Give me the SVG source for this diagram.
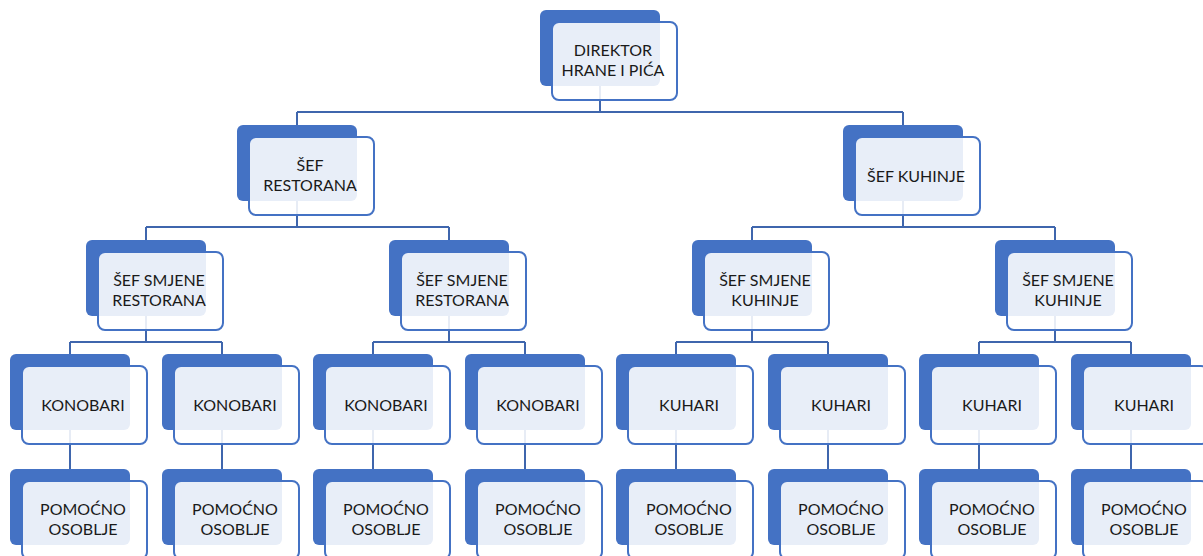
<svg xmlns="http://www.w3.org/2000/svg" width="1203" height="556" viewBox="0 0 1203 556">
<style>
.bk{fill:#4472C4}
.fr{fill:#ffffff;fill-opacity:0.88;stroke:#4472C4;stroke-width:2}
.cn{fill:none;stroke:#3F66AD;stroke-width:2}
text{font-family:Lato,"Liberation Sans",sans-serif;font-size:16px;fill:#1a1a1a;text-anchor:middle}
</style>
<defs>
<g id="box">
<rect class="bk" x="0" y="0" width="120" height="76" rx="6"/>
<rect class="fr" x="12" y="12" width="125" height="78" rx="7"/>
</g>
</defs>
<g id="connectors">
<path class="cn" d="M600,86V112M297,112H903M297,112V125M903,112V125"/>
<path class="cn" d="M297,201V227M146,227H449M146,227V240M449,227V240"/>
<path class="cn" d="M903,201V227M752,227H1055M752,227V240M1055,227V240"/>
<path class="cn" d="M146,316V342M70,342H222M70,342V354M222,342V354"/>
<path class="cn" d="M449,316V342M373,342H525M373,342V354M525,342V354"/>
<path class="cn" d="M752,316V342M676,342H828M676,342V354M828,342V354"/>
<path class="cn" d="M1055,316V342M979,342H1131M979,342V354M1131,342V354"/>
<path class="cn" d="M70,430V469M222,430V469M373,430V469M525,430V469M676,430V469M828,430V469M979,430V469M1131,430V469"/>
</g>
<g id="n-direktor"><use href="#box" x="540" y="10"/><text x="613" y="56">DIREKTOR<tspan x="613" dy="20">HRANE I PIĆA</tspan></text></g>
<g id="n-sef-restorana"><use href="#box" x="237" y="125"/><text x="310" y="171">ŠEF<tspan x="310" dy="20">RESTORANA</tspan></text></g>
<g id="n-sef-kuhinje"><use href="#box" x="843" y="125"/><text x="916" y="182">ŠEF KUHINJE</text></g>
<g id="n-smjena-r1"><use href="#box" x="86" y="240"/><text x="159" y="286">ŠEF SMJENE<tspan x="159" dy="20">RESTORANA</tspan></text></g>
<g id="n-smjena-r2"><use href="#box" x="389" y="240"/><text x="462" y="286">ŠEF SMJENE<tspan x="462" dy="20">RESTORANA</tspan></text></g>
<g id="n-smjena-k1"><use href="#box" x="692" y="240"/><text x="765" y="286">ŠEF SMJENE<tspan x="765" dy="20">KUHINJE</tspan></text></g>
<g id="n-smjena-k2"><use href="#box" x="995" y="240"/><text x="1068" y="286">ŠEF SMJENE<tspan x="1068" dy="20">KUHINJE</tspan></text></g>
<g id="n-konobari1"><use href="#box" x="10" y="354"/><text x="83" y="411">KONOBARI</text></g>
<g id="n-konobari2"><use href="#box" x="162" y="354"/><text x="235" y="411">KONOBARI</text></g>
<g id="n-konobari3"><use href="#box" x="313" y="354"/><text x="386" y="411">KONOBARI</text></g>
<g id="n-konobari4"><use href="#box" x="465" y="354"/><text x="538" y="411">KONOBARI</text></g>
<g id="n-kuhari1"><use href="#box" x="616" y="354"/><text x="689" y="411">KUHARI</text></g>
<g id="n-kuhari2"><use href="#box" x="768" y="354"/><text x="841" y="411">KUHARI</text></g>
<g id="n-kuhari3"><use href="#box" x="919" y="354"/><text x="992" y="411">KUHARI</text></g>
<g id="n-kuhari4"><use href="#box" x="1071" y="354"/><text x="1144" y="411">KUHARI</text></g>
<g id="n-pom1"><use href="#box" x="10" y="469"/><text x="83" y="515">POMOĆNO<tspan x="83" dy="20">OSOBLJE</tspan></text></g>
<g id="n-pom2"><use href="#box" x="162" y="469"/><text x="235" y="515">POMOĆNO<tspan x="235" dy="20">OSOBLJE</tspan></text></g>
<g id="n-pom3"><use href="#box" x="313" y="469"/><text x="386" y="515">POMOĆNO<tspan x="386" dy="20">OSOBLJE</tspan></text></g>
<g id="n-pom4"><use href="#box" x="465" y="469"/><text x="538" y="515">POMOĆNO<tspan x="538" dy="20">OSOBLJE</tspan></text></g>
<g id="n-pom5"><use href="#box" x="616" y="469"/><text x="689" y="515">POMOĆNO<tspan x="689" dy="20">OSOBLJE</tspan></text></g>
<g id="n-pom6"><use href="#box" x="768" y="469"/><text x="841" y="515">POMOĆNO<tspan x="841" dy="20">OSOBLJE</tspan></text></g>
<g id="n-pom7"><use href="#box" x="919" y="469"/><text x="992" y="515">POMOĆNO<tspan x="992" dy="20">OSOBLJE</tspan></text></g>
<g id="n-pom8"><use href="#box" x="1071" y="469"/><text x="1144" y="515">POMOĆNO<tspan x="1144" dy="20">OSOBLJE</tspan></text></g>
</svg>
